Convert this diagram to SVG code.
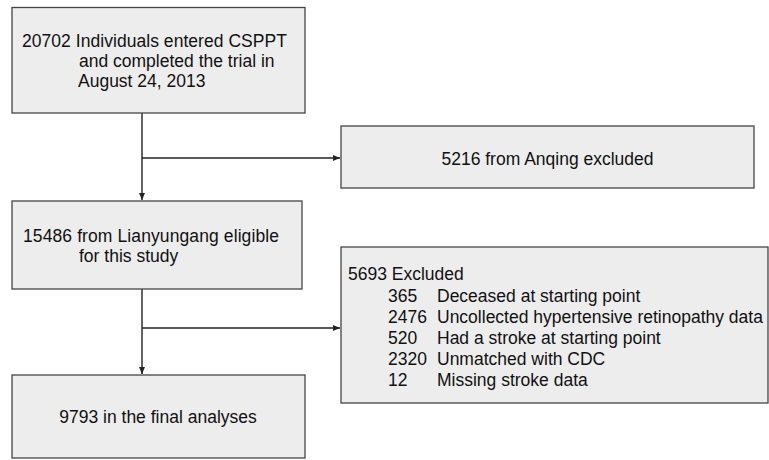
<svg xmlns="http://www.w3.org/2000/svg" width="769" height="460" viewBox="0 0 769 460">
<style>
.box{fill:#ededed;stroke:#454545;stroke-width:1.3}
.t{font-family:"Liberation Sans",Arial,sans-serif;font-size:17.5px;fill:#111}
.c{stroke:#222;stroke-width:1.4;fill:none}
</style>
<defs>
<marker id="ah" markerWidth="8" markerHeight="8" refX="7" refY="4" orient="auto" markerUnits="userSpaceOnUse">
<path d="M0,1 L7,4 L0,7 Z" fill="#222"/>
</marker>
</defs>
<rect width="769" height="460" fill="#fff"/>
<g id="connectors">
<path class="c" d="M142,113 V200" marker-end="url(#ah)"/>
<path class="c" d="M142,158 H340" marker-end="url(#ah)"/>
<path class="c" d="M142,289 V374" marker-end="url(#ah)"/>
<path class="c" d="M142,328 H340" marker-end="url(#ah)"/>
</g>
<g id="n1">
<rect class="box" x="12" y="7.5" width="293" height="105.5"/>
<text class="t" x="22" y="47" textLength="265" lengthAdjust="spacing">20702 Individuals entered CSPPT</text>
<text class="t" x="79" y="67">and completed the trial in</text>
<text class="t" x="78" y="87">August 24, 2013</text>
</g>
<g id="n2">
<rect class="box" x="341" y="126" width="413" height="62"/>
<text class="t" x="547.5" y="165" text-anchor="middle">5216 from Anqing excluded</text>
</g>
<g id="n3">
<rect class="box" x="12" y="201" width="290" height="88"/>
<text class="t" x="23" y="242" textLength="256" lengthAdjust="spacing">15486 from Lianyungang eligible</text>
<text class="t" x="79" y="262">for this study</text>
</g>
<g id="n4">
<rect class="box" x="12" y="375" width="293" height="83"/>
<text class="t" x="158" y="423" text-anchor="middle">9793 in the final analyses</text>
</g>
<g id="n5">
<rect class="box" x="341" y="247" width="427" height="156"/>
<text class="t" x="348" y="280">5693 Excluded</text>
<text class="t" x="388" y="302">365</text>
<text class="t" x="437" y="302">Deceased at starting point</text>
<text class="t" x="388" y="323">2476</text>
<text class="t" x="437" y="323">Uncollected hypertensive retinopathy data</text>
<text class="t" x="388" y="344">520</text>
<text class="t" x="437" y="344">Had a stroke at starting point</text>
<text class="t" x="388" y="365">2320</text>
<text class="t" x="437" y="365">Unmatched with CDC</text>
<text class="t" x="388" y="386">12</text>
<text class="t" x="437" y="386">Missing stroke data</text>
</g>
</svg>
